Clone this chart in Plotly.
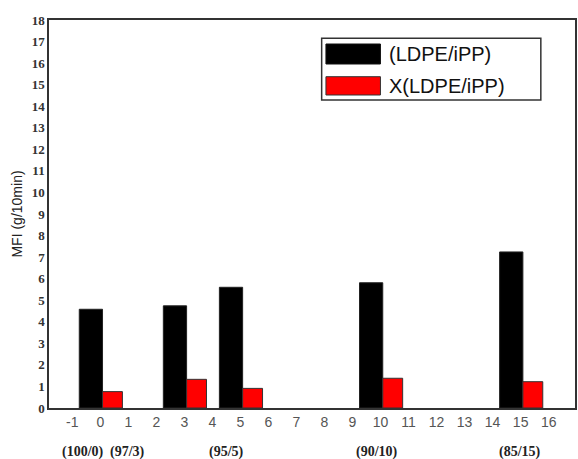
import plotly.graph_objects as go

# ---- data ----
positions = [0, 3, 5, 10, 15]
mfi_blend = [4.58, 4.74, 5.6, 5.81, 7.24]
mfi_xblend = [0.76, 1.33, 0.91, 1.38, 1.22]
series_names = ["(LDPE/iPP)", "X(LDPE/iPP)"]
composition_labels = ["(100/0)", "(97/3)", "(95/5)", "(90/10)", "(85/15)"]
composition_label_x = [-0.63, 0.97, 4.5, 9.87, 14.99]
y_ticks = list(range(0, 19))
x_ticks = list(range(-1, 17))

fig = go.Figure()
fig.add_trace(go.Bar(x=positions, y=mfi_blend, name=series_names[0],
                     width=0.83, offset=-0.75,
                     marker=dict(color="black", line=dict(color="#222", width=1)),
                     showlegend=False))
fig.add_trace(go.Bar(x=positions, y=mfi_xblend, name=series_names[1],
                     width=0.71, offset=0.08,
                     marker=dict(color="#ff0000", line=dict(color="#333", width=1)),
                     showlegend=False))

W, H = 578, 459
L, R, T, B = 49, 1, 20, 51
pw, ph = W - L - R, H - T - B

def px(x):
    return (x - L) / pw

def py(y):
    return (H - B - y) / ph

shapes = [
    dict(type="rect", xref="paper", yref="paper", x0=px(322.7), x1=px(542.7),
         y0=py(100), y1=py(38.3), line=dict(color="#333", width=1.5), fillcolor="white"),
    dict(type="rect", xref="paper", yref="paper", x0=px(327), x1=px(381.7),
         y0=py(64), y1=py(44), line=dict(color="#111", width=1), fillcolor="black"),
    dict(type="rect", xref="paper", yref="paper", x0=px(327), x1=px(381.7),
         y0=py(95), y1=py(76.7), line=dict(color="#333", width=1), fillcolor="#ff0000"),
]

annotations = [
    dict(text=series_names[0], xref="paper", yref="paper", x=px(388), y=py(54),
         xanchor="left", yanchor="middle", showarrow=False,
         font=dict(family="Liberation Sans, Arial", size=20, color="#111")),
    dict(text=series_names[1], xref="paper", yref="paper", x=px(388), y=py(86),
         xanchor="left", yanchor="middle", showarrow=False,
         font=dict(family="Liberation Sans, Arial", size=20, color="#111")),
]
for lab, xv in zip(composition_labels, composition_label_x):
    annotations.append(dict(text="<b>" + lab + "</b>", x=xv, xref="x", yref="paper",
                            y=py(452), yanchor="middle", xanchor="center", showarrow=False,
                            font=dict(family="Liberation Serif, Times New Roman", size=14, color="#222")))

fig.update_layout(
    width=W, height=H,
    margin=dict(l=L, r=R, t=T, b=B),
    paper_bgcolor="white", plot_bgcolor="white",
    barmode="overlay",
    shapes=shapes,
    annotations=annotations,
    xaxis=dict(range=[-1.83, 16.94], tickmode="array", tickvals=x_ticks,
               ticktext=[str(v) for v in x_ticks],
               showgrid=False, zeroline=False, showline=True, linecolor="#333",
               linewidth=1.5, mirror=True, ticks="",
               tickfont=dict(family="Liberation Sans, Arial", size=14, color="#555")),
    yaxis=dict(range=[0, 18], tickmode="array", tickvals=y_ticks,
               showgrid=False, zeroline=False, showline=True, linecolor="#333",
               linewidth=1.5, mirror=True, ticks="",
               tickfont=dict(family="Liberation Serif, Times New Roman", size=13,
                             color="#333", weight="bold"),
               title=dict(text="MFI (g/10min)", standoff=6,
                          font=dict(family="Liberation Sans, Arial", size=14, color="#222"))),
)

fig.write_html("out.html")
